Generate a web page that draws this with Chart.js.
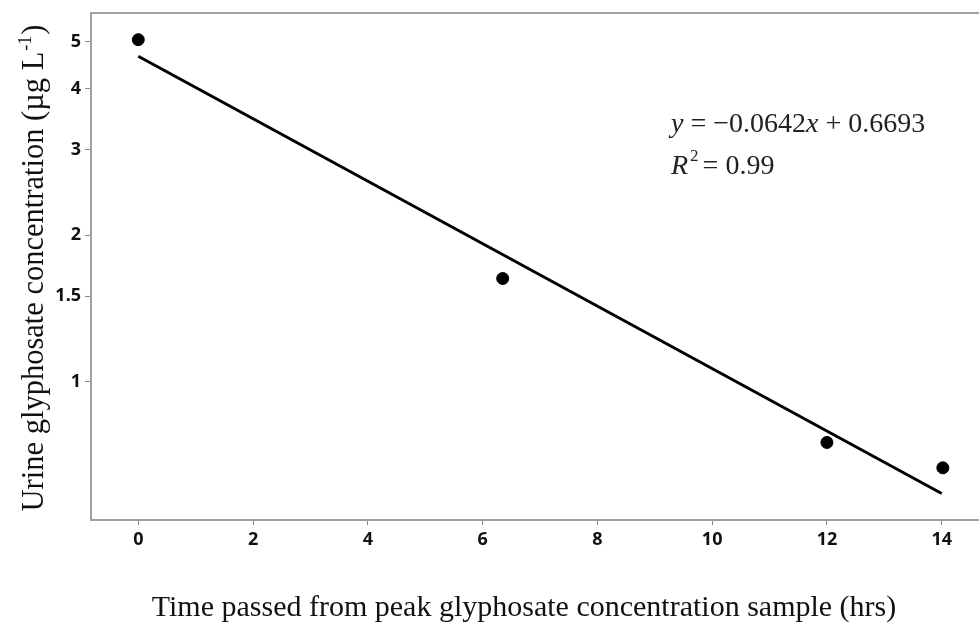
<!DOCTYPE html>
<html>
<head>
<meta charset="utf-8">
<script src="https://cdn.jsdelivr.net/npm/chart.js"></script>
<style>
  html, body { margin: 0; padding: 0; background: #fff; }
  #wrap { width: 979px; height: 624px; }
</style>
</head>
<body>
<div id="wrap"><canvas id="decayChart" width="979" height="624"></canvas></div>
<script>
  // measured samples
  var hours = [0, 6.35, 12, 14.02];
  var conc = [5.05, 1.63, 0.75, 0.665];

  // fitted line end points (log10 y = -0.0642x + 0.6693)
  var fitHours = [0, 14];
  var fitConc = [4.67, 0.589];

  var xTicks = [0, 2, 4, 6, 8, 10, 12, 14];
  var yTicks = [1, 1.5, 2, 3, 4, 5];

  var tickFont = { family: 'Noto Sans', size: 18, weight: 'bold' };

  var pointData = hours.map(function (h, i) { return { x: h, y: conc[i] }; });
  var fitData = fitHours.map(function (h, i) { return { x: h, y: fitConc[i] }; });

  // titles, frame bits and the equation
  var textPlugin = {
    id: 'textPlugin',
    afterDraw: function (chart) {
      var ctx = chart.ctx;
      var area = chart.chartArea;
      ctx.save();

      // top border, and the bottom axis line runs off the right edge
      ctx.strokeStyle = '#a0a0a0';
      ctx.lineWidth = 2;
      ctx.beginPath();
      ctx.moveTo(area.left - 1, area.top);
      ctx.lineTo(chart.width, area.top);
      ctx.moveTo(area.right - 1, area.bottom);
      ctx.lineTo(chart.width, area.bottom);
      ctx.stroke();

      ctx.fillStyle = '#111';
      ctx.textBaseline = 'alphabetic';

      // x title
      ctx.font = '30px "Liberation Serif"';
      ctx.textAlign = 'center';
      ctx.fillText('Time passed from peak glyphosate concentration sample (hrs)', 524, 616);

      // y title with superscript
      ctx.save();
      ctx.translate(43, 269);
      ctx.rotate(-Math.PI / 2);
      ctx.textAlign = 'left';
      var main = 'Urine glyphosate concentration (\u00b5g L';
      var sup = '-1';
      var tail = ')';
      ctx.font = '30.5px "Liberation Serif"';
      var w1 = ctx.measureText(main).width;
      var w3 = ctx.measureText(tail).width;
      ctx.font = '18px "Liberation Serif"';
      var w2 = ctx.measureText(sup).width;
      var start = -(w1 + w2 + w3) / 2;
      ctx.font = '30.5px "Liberation Serif"';
      ctx.fillText(main, start, 0);
      ctx.font = '18px "Liberation Serif"';
      ctx.fillText(sup, start + w1 + 1, -12);
      ctx.font = '30.5px "Liberation Serif"';
      ctx.fillText(tail, start + w1 + w2 + 2, 0);
      ctx.restore();

      // equation
      ctx.textAlign = 'left';
      ctx.fillStyle = '#222';
      var parts = [
        ['italic', 'y'], ['normal', ' = \u22120.0642'], ['italic', 'x'], ['normal', ' + 0.6693']
      ];
      var px = 671;
      parts.forEach(function (p) {
        ctx.font = p[0] + ' 28px "Liberation Serif"';
        ctx.fillText(p[1], px, 132);
        px += ctx.measureText(p[1]).width;
      });
      px = 671;
      ctx.font = 'italic 28px "Liberation Serif"';
      ctx.fillText('R', px, 174);
      px += ctx.measureText('R').width + 2;
      ctx.font = '17px "Liberation Serif"';
      ctx.fillText('2', px, 161);
      px += ctx.measureText('2').width + 4;
      ctx.font = '28px "Liberation Serif"';
      ctx.fillText('= 0.99', px, 174);

      ctx.restore();
    }
  };

  var ctx = document.getElementById('decayChart').getContext('2d');
  var decayChart = new Chart(ctx, {
    type: 'scatter',
    data: {
      datasets: [{
        label: 'Samples',
        data: pointData,
        backgroundColor: '#000',
        borderColor: '#000',
        pointRadius: 6,
        pointHoverRadius: 6
      }, {
        label: 'Fit',
        data: fitData,
        showLine: true,
        borderColor: '#000',
        borderWidth: 3,
        pointRadius: 0,
        fill: false
      }]
    },
    options: {
      responsive: false,
      animation: false,
      layout: { padding: { top: 13, right: 0, left: 0, bottom: 0 } },
      plugins: {
        legend: { display: false },
        tooltip: { enabled: false }
      },
      scales: {
        x: {
          type: 'linear',
          min: -0.824,
          max: 14.528,
          afterBuildTicks: function (scale) {
            scale.ticks = xTicks.map(function (v) { return { value: v }; });
          },
          afterFit: function (scale) {
            scale.height = 104;
          },
          ticks: { font: tickFont, color: '#111', padding: 4, maxRotation: 0 },
          grid: { drawOnChartArea: false, drawTicks: true, tickLength: 5, color: '#888' },
          border: { color: '#a0a0a0', width: 2 }
        },
        y: {
          type: 'logarithmic',
          min: 0.5195,
          max: 5.73,
          afterBuildTicks: function (scale) {
            scale.ticks = yTicks.map(function (v) { return { value: v }; });
          },
          afterFit: function (scale) {
            scale.width = 91;
            scale.paddingTop = 0;
            scale.paddingBottom = 0;
          },
          ticks: {
            font: tickFont,
            color: '#111',
            padding: 4,
            callback: function (v) { return String(v); }
          },
          grid: { drawOnChartArea: false, drawTicks: true, tickLength: 6, color: '#888' },
          border: { color: '#a0a0a0', width: 2 }
        }
      }
    },
    plugins: [textPlugin]
  });
</script>
</body>
</html>
